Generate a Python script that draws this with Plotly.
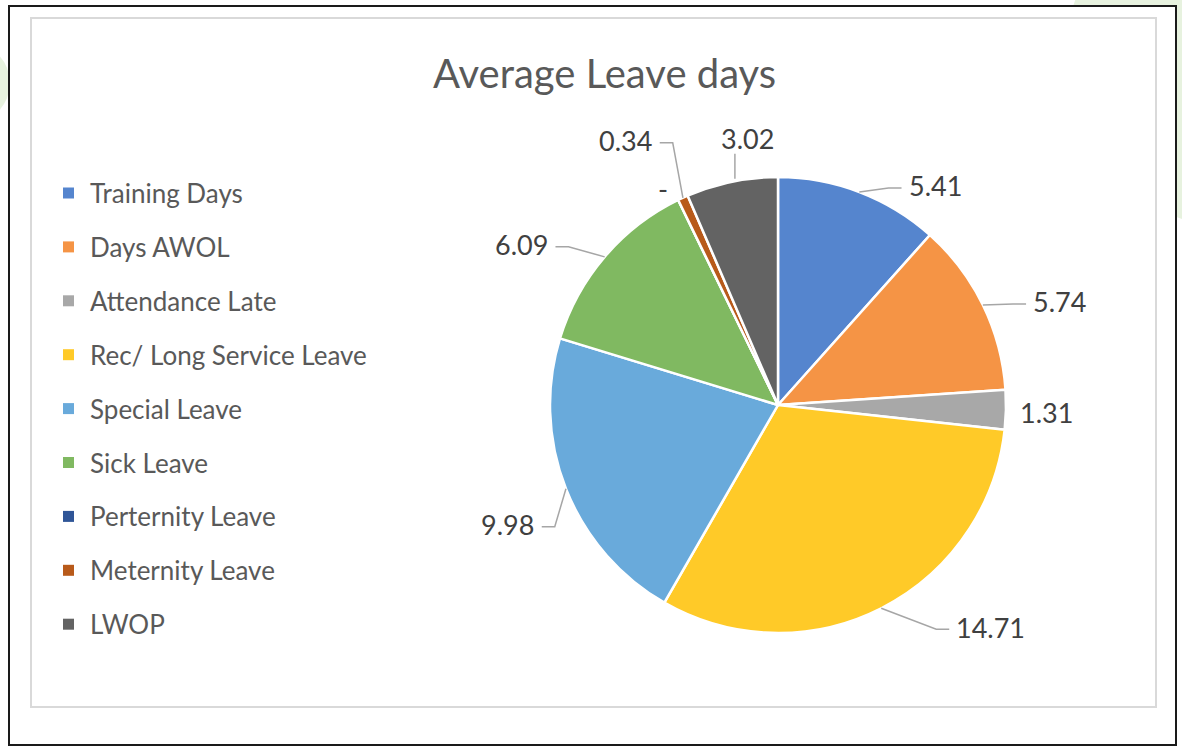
import math
import plotly.graph_objects as go

# Leave categories and their average days
categories = [
    "Training Days",
    "Days AWOL",
    "Attendance Late",
    "Rec/ Long Service Leave",
    "Special Leave",
    "Sick Leave",
    "Perternity Leave",
    "Meternity Leave",
    "LWOP",
]
avg_days = [5.41, 5.74, 1.31, 14.71, 9.98, 6.09, 0.0, 0.34, 3.02]

slice_colors = [
    "#5585CE", "#F59445", "#A8A8A8", "#FFCA28", "#69AADB",
    "#80B961", "#2F5597", "#B85A1A", "#636363",
]

W, H = 1182, 747
FONT = "Lato, 'Open Sans', sans-serif"
TEXT_GREY = "#595959"
LABEL_GREY = "#404040"
LABEL_SIZE = 27


def px(x):
    return x / W


def py(y):
    return 1 - y / H


# Pie placement (pixels)
CX, CY, R = 778, 405, 228

# Label offsets from each slice's outer-edge midpoint (pixels) and leader style
label_offsets = [(76, -6), (77, -3), (41, 3), (109, 19), (-58, 36),
                 (-83, -12), (-15, -12), (-57, -57), (16, -43)]
leader_kind = ["h", "h", None, "h", "h", "h", None, "h", "v"]


def fmt(v):
    return "-" if v == 0 else f"{v:.2f}"


fig = go.Figure()

fig.add_trace(go.Pie(
    labels=categories,
    values=avg_days,
    sort=False,
    direction="clockwise",
    rotation=0,
    marker=dict(colors=slice_colors, line=dict(color="white", width=2.5)),
    textinfo="none",
    showlegend=False,
    domain=dict(x=[px(CX - R), px(CX + R)], y=[py(CY + R), py(CY - R)]),
    hovertemplate="%{label}: %{value}<extra></extra>",
))

shapes = []
annotations = []

# Background decoration and chart frames
shapes.append(dict(type="circle", xref="paper", yref="paper", layer="below",
                   x0=px(1230 - 166), x1=px(1230 + 166),
                   y0=py(60 + 166), y1=py(60 - 166),
                   fillcolor="#E7F2DF", line=dict(width=0)))
shapes.append(dict(type="circle", xref="paper", yref="paper", layer="below",
                   x0=px(-30 - 40), x1=px(-30 + 40),
                   y0=py(83 + 40), y1=py(83 - 40),
                   fillcolor="#E7F2DF", line=dict(width=0)))
shapes.append(dict(type="rect", xref="paper", yref="paper", layer="below",
                   x0=px(9), x1=px(1176), y0=py(745), y1=py(6),
                   fillcolor="white", line=dict(color="#1a1a1a", width=2)))
shapes.append(dict(type="rect", xref="paper", yref="paper", layer="below",
                   x0=px(31), x1=px(1156), y0=py(707), y1=py(18),
                   fillcolor="white", line=dict(color="#D9D9D9", width=2)))

# Title
annotations.append(dict(text="Average Leave days", x=px(604), y=py(73),
                        xref="paper", yref="paper", showarrow=False,
                        xanchor="center", yanchor="middle",
                        font=dict(family=FONT, size=40, color=TEXT_GREY)))

# Legend
LEG_TOP, LEG_STEP = 193, 53.9
for i, (name, col) in enumerate(zip(categories, slice_colors)):
    yc = LEG_TOP + i * LEG_STEP
    shapes.append(dict(type="rect", xref="paper", yref="paper",
                       x0=px(63), x1=px(74), y0=py(yc + 5.5), y1=py(yc - 5.5),
                       fillcolor=col, line=dict(width=0)))
    annotations.append(dict(text=name, x=px(88), y=py(yc), xref="paper",
                            yref="paper", showarrow=False, xanchor="left",
                            yanchor="middle",
                            font=dict(family=FONT, size=26, color=TEXT_GREY)))

# Data labels with leader lines
total = sum(avg_days)
cum = 0.0
for v, (dx, dy), kind in zip(avg_days, label_offsets, leader_kind):
    mid = (cum + v / 2) / total * 2 * math.pi
    cum += v
    ax = CX + R * math.sin(mid)
    ay = CY - R * math.cos(mid)
    tx, ty = ax + dx, ay + dy
    text = fmt(v)
    annotations.append(dict(text=text, x=px(tx), y=py(ty), xref="paper",
                            yref="paper", showarrow=False, xanchor="center",
                            yanchor="middle",
                            font=dict(family=FONT, size=LABEL_SIZE,
                                      color=LABEL_GREY)))
    if kind == "h":
        half = len(text) * 7.2
        side = -1 if dx > 0 else 1
        ex = tx + side * (half + 5)
        ey = ty + 2
        bx = ex + side * 13
        path = (f"M {px(ax)} {py(ay)} L {px(bx)} {py(ey)} "
                f"L {px(ex)} {py(ey)}")
        shapes.append(dict(type="path", xref="paper", yref="paper", path=path,
                           line=dict(color="#A6A6A6", width=1.5)))
    elif kind == "v":
        ey = ty + 15
        path = f"M {px(ax + 3)} {py(ay - 3)} L {px(ax + 3)} {py(ey)}"
        shapes.append(dict(type="path", xref="paper", yref="paper", path=path,
                           line=dict(color="#A6A6A6", width=1.5)))

fig.update_layout(
    width=W, height=H,
    margin=dict(l=0, r=0, t=0, b=0),
    paper_bgcolor="white",
    plot_bgcolor="white",
    shapes=shapes,
    annotations=annotations,
)

fig.write_html("out.html")
